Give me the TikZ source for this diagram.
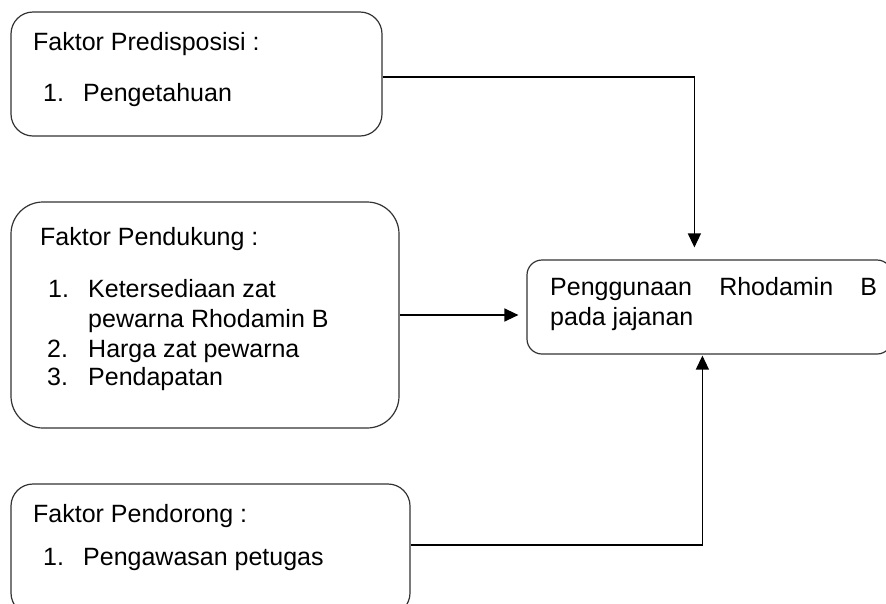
\documentclass[tikz,border=0pt]{standalone}
\usepackage{fontspec}
\setmainfont{Liberation Sans}
\usetikzlibrary{calc,arrows.meta}
\begin{document}
\begin{tikzpicture}[x=1pt,y=-1pt,
  box/.style={draw=black!80,line width=1.2pt,inner sep=0pt},
  txt/.style={anchor=base west,inner sep=0pt,font=\fontsize{25}{30}\selectfont},
  conn/.style={draw=black,line width=1.3pt,-{Triangle[length=14pt,width=13pt]}}]
\clip (0,0) rectangle (886,603);
\fill[white] (0,0) rectangle (886,603);
% boxes
\node[box,rounded corners=22pt,minimum width=371pt,minimum height=124pt] (b1) at (196.5,74) {};
\node[box,rounded corners=32pt,minimum width=388pt,minimum height=226pt] (b2) at (205,315) {};
\node[box,rounded corners=22pt,minimum width=399pt,minimum height=131pt] (b3) at (210.5,549.5) {};
\node[box,rounded corners=15pt,minimum width=365pt,minimum height=94pt] (t) at (709.5,307) {};
% texts
\node[txt] (h1) at (33,50) {Faktor Predisposisi :};
\node[txt] (n11) at (43,101) {1.};
\node[txt] (i11) at (83,101) {Pengetahuan};
\node[txt] (h2) at (40,245) {Faktor Pendukung :};
\node[txt] (n21) at (48,297) {1.};
\node[txt] (i21) at (88,297) {Ketersediaan zat};
\node[txt] (i21b) at (88,327) {pewarna Rhodamin B};
\node[txt] (n22) at (47,357) {2.};
\node[txt] (i22) at (88,357) {Harga zat pewarna};
\node[txt] (n23) at (47,385) {3.};
\node[txt] (i23) at (88,385) {Pendapatan};
\node[txt] (h3) at (33,522) {Faktor Pendorong :};
\node[txt] (n31) at (43,565) {1.};
\node[txt] (i31) at (83,565) {Pengawasan petugas};
\node[txt] (tt1) at (550,295) {\makebox[327pt][s]{Penggunaan Rhodamin B}};
\node[txt] (tt2) at (550,325) {pada jajanan};
% connectors
\draw[conn,shorten >=12pt] ($(b1.east)+(0,3)$) -| ($(t.north west)+(168,0)$);
\draw[conn,shorten >=8pt] (b2.east) -- (b2.east -| t.west);
\draw[conn,shorten >=1pt] ($(b3.east)+(0,-4.5)$) -| ($(t.south west)+(176,0)$);
\end{tikzpicture}
\end{document}
